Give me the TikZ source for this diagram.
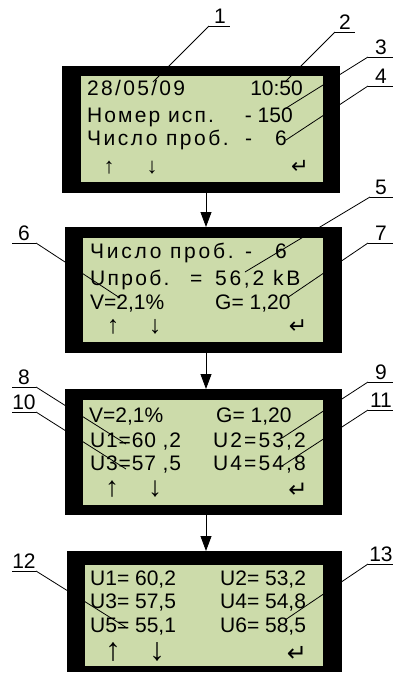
\documentclass[tikz,border=0pt]{standalone}
\usepackage{fontspec}
\setmainfont{Liberation Sans}
\newfontfamily\arrfont{DejaVu Sans}
\usetikzlibrary{arrows.meta}
\definecolor{lcd}{RGB}{204,219,170}
\newcommand\lsp[2]{{\addfontfeature{LetterSpace=#1}#2}}
\tikzset{
  frame/.style={fill=black, draw=none, inner sep=0pt, outer sep=0pt},
  screen/.style={fill=lcd, draw=none, inner sep=0pt, outer sep=0pt},
  lt/.style={inner sep=0pt, anchor=base west, font=\fontsize{21}{25}\selectfont},
  rt/.style={inner sep=0pt, anchor=base east, font=\fontsize{21}{25}\selectfont},
  ar/.style={inner sep=0pt, anchor=south, font=\fontsize{#1}{#1}\selectfont},
  ret/.style={inner sep=0pt, anchor=south, font=\arrfont\fontsize{#1}{#1}\selectfont},
  lbl/.style={inner sep=0pt, anchor=base, font=\fontsize{21}{25}\selectfont},
  leader/.style={line width=0.8pt},
  flow/.style={line width=0.8pt, -{Triangle[length=15pt,width=11pt]}}
}
\begin{document}
\begin{tikzpicture}[x=1pt,y=-1pt]
\useasboundingbox (0,0) rectangle (395,673);
% frames
\node[frame, minimum width=278pt, minimum height=127pt] (b1) at (201,129.5) {};
\node[screen, minimum width=242pt, minimum height=106pt] (g1) at (202,129) {};
\node[frame, minimum width=277pt, minimum height=126pt] (b2) at (203.5,290) {};
\node[screen, minimum width=240pt, minimum height=104pt] (g2) at (203,290) {};
\node[frame, minimum width=277pt, minimum height=126pt] (b3) at (203.5,452) {};
\node[screen, minimum width=240pt, minimum height=105pt] (g3) at (203,452.5) {};
\node[frame, minimum width=275pt, minimum height=121pt] (b4) at (204.5,611.5) {};
\node[screen, minimum width=238pt, minimum height=101pt] (g4) at (204,615.5) {};
% flow arrows
\coordinate (ax) at (206,0);
\draw[flow] (b1.south -| ax) -- (b2.north -| ax);
\draw[flow] (b2.south -| ax) -- (b3.north -| ax);
\draw[flow] (b3.south -| ax) -- (b4.north -| ax);
% screen 1
\node[lt] (t1a) at (87,95) {\lsp{11}{28/05/09}};
\node[rt] (t1b) at (303,95) {10:50};
\node[lt] (t1c) at (87,122) {\lsp{10}{Номер исп.}};
\node[rt] (t1d) at (293,122) {- 150};
\node[lt] (t1e) at (87,145) {\lsp{12}{Число проб.}};
\node[lt] (t1f) at (245,145) {-};
\node[rt] (t1g) at (287,145) {6};
\node[ar=22] (a1u) at (109,174) {↑};
\node[ar=22] (a1d) at (152,174) {↓};
\node[ret=21] (a1r) at (300,174) {↵};
% screen 2
\node[lt] (t2a) at (90,258) {\lsp{13}{Число проб.}};
\node[lt] (t2b) at (245,258) {-};
\node[rt] (t2c) at (287,258) {6};
\node[lt] (t2d) at (90,285) {\lsp{11}{Uпроб.}};
\node[lt] (t2e) at (190,285) {=};
\node[lt] (t2f) at (215,285) {\lsp{13}{56,2}};
\node[lt] (t2g) at (273,285) {\lsp{13}{kB}};
\node[lt] (t2h) at (90,309) {V=2,1\%};
\node[lt] (t2i) at (215,309) {G= 1,20};
\node[ar=25] (a2u) at (113,334) {↑};
\node[ar=25] (a2d) at (155,334) {↓};
\node[ret=22] (a2r) at (298,334) {↵};
% screen 3
\node[lt] (t3a) at (89,422) {V=2,1\%};
\node[lt] (t3b) at (216,422) {G= 1,20};
\node[lt] (t3c) at (90,447) {\lsp{4}{U1=60 ,2}};
\node[lt] (t3d) at (213,447) {\lsp{10}{U2=53,2}};
\node[lt] (t3e) at (90,470) {\lsp{4}{U3=57 ,5}};
\node[lt] (t3f) at (213,470) {\lsp{10}{U4=54,8}};
\node[ar=28] (a3u) at (112,498) {↑};
\node[ar=28] (a3d) at (155,498) {↓};
\node[ret=23] (a3r) at (298,498) {↵};
% screen 4
\node[lt] (t4a) at (90,585) {U1= 60,2};
\node[lt] (t4b) at (220,585) {U2= 53,2};
\node[lt] (t4c) at (90,608) {U3= 57,5};
\node[lt] (t4d) at (220,608) {U4= 54,8};
\node[lt] (t4e) at (90,632) {U5= 55,1};
\node[lt] (t4f) at (220,632) {U6= 58,5};
\node[ar=32] (a4u) at (113,662) {↑};
\node[ar=32] (a4d) at (157,662) {↓};
\node[ret=24] (a4r) at (297,662) {↵};
% callouts: number / underline left / underline right / y / text x / start x / end x / end y
\foreach \n/\xa/\xb/\yy/\cx/\sx/\ex/\ey in {
  1/209/230/26/220/209/153/82,
  2/335/355/32/345/335/286/81,
  3/368/393/57/381/368/283/110,
  4/368/393/86/381/368/286/140,
  5/370/393/197/381/370/245/272,
  6/12/36/243/24/36/120/298,
  7/368/393/243/381/368/287/298,
  8/12/36/387/24/36/126/444,
  9/368/393/382/381/368/282/438,
  10/12/36/412/24/36/126/469,
  11/368/393/410/381/368/282/466,
  12/12/36/571/24/36/127/628,
  13/368/393/564/381/368/285/620}{
  \coordinate (u\n a) at (\xa,\yy);
  \coordinate (u\n b) at (\xb,\yy);
  \coordinate (s\n) at (\sx,\yy);
  \coordinate (e\n) at (\ex,\ey);
  \node[lbl] (n\n) at (\cx,\yy-3) {\n};
  \draw[leader] (u\n a) -- (u\n b);
  \draw[leader] (s\n) -- (e\n);
}
\end{tikzpicture}
\end{document}
